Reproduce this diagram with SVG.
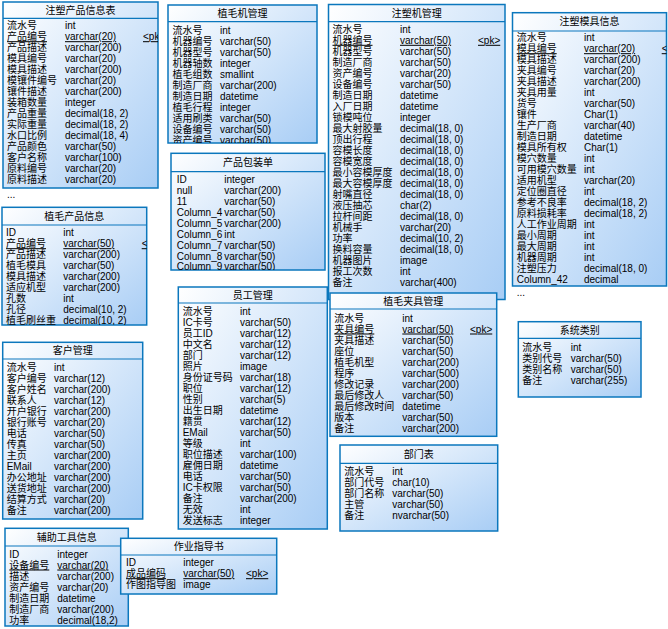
<svg xmlns="http://www.w3.org/2000/svg" width="668" height="629" viewBox="0 0 668 629">
<style>
  .box{fill:url(#fill);stroke:#0b77bd;stroke-width:1.5}
  .div{stroke:#0b77bd;stroke-width:1.2}
  text{font-family:"Liberation Sans","Noto Sans CJK SC",sans-serif;font-size:10px;fill:#000}
  .t{text-anchor:middle}
  .u{text-decoration:underline}
</style>
<defs>
  <linearGradient id="fill" x1="0" y1="0" x2="1" y2="1">
    <stop offset="0" stop-color="#ffffff"/>
    <stop offset="1" stop-color="#a8cdf5"/>
  </linearGradient>
  <clipPath id="c1"><rect x="3" y="2" width="155" height="186"/></clipPath>
  <clipPath id="c2"><rect x="168" y="5" width="149" height="138"/></clipPath>
  <clipPath id="c3"><rect x="328.5" y="4.5" width="176.5" height="295"/></clipPath>
  <clipPath id="c4"><rect x="512.5" y="12.7" width="154" height="273.3"/></clipPath>
  <clipPath id="c5"><rect x="171" y="153.3" width="154" height="116.7"/></clipPath>
  <clipPath id="c6"><rect x="2" y="207.3" width="144.7" height="117.7"/></clipPath>
  <clipPath id="c7"><rect x="2.7" y="342.3" width="140" height="176.7"/></clipPath>
  <clipPath id="c8"><rect x="178.3" y="287" width="149" height="242"/></clipPath>
  <clipPath id="c9"><rect x="330" y="293" width="166.7" height="143.3"/></clipPath>
  <clipPath id="c10"><rect x="518.3" y="321.7" width="122.7" height="75.3"/></clipPath>
  <clipPath id="c11"><rect x="340" y="445" width="157.7" height="86"/></clipPath>
  <clipPath id="c12"><rect x="5" y="528.3" width="123.3" height="97.7"/></clipPath>
  <clipPath id="c13"><rect x="120.7" y="538.3" width="156" height="55.7"/></clipPath>
</defs>

<!-- injection-moulded product table -->
<g id="zs-product">
  <rect class="box" x="3" y="2" width="155" height="186"/>
  <line class="div" x1="3" y1="18.3" x2="158" y2="18.3"/>
  <text class="t" x="80.5" y="13.7">注塑产品信息表</text>
  <g clip-path="url(#c1)">
    <text y="29.2"><tspan x="7">流水号</tspan><tspan x="65">int</tspan></text>
    <text class="u" y="40.2" x="7">产品编号</text><text class="u" y="40.2" x="65">varchar(20)</text><text class="u" y="40.2" x="143">&lt;pk&gt;</text>
    <text y="51.2"><tspan x="7">产品描述</tspan><tspan x="65">varchar(200)</tspan></text>
    <text y="62.2"><tspan x="7">模具编号</tspan><tspan x="65">varchar(20)</tspan></text>
    <text y="73.2"><tspan x="7">模具描述</tspan><tspan x="65">varchar(200)</tspan></text>
    <text y="84.2"><tspan x="7">模镶件编号</tspan><tspan x="65">varchar(20)</tspan></text>
    <text y="95.2"><tspan x="7">镶件描述</tspan><tspan x="65">varchar(200)</tspan></text>
    <text y="106.2"><tspan x="7">装箱数量</tspan><tspan x="65">integer</tspan></text>
    <text y="117.2"><tspan x="7">产品重量</tspan><tspan x="65">decimal(18, 2)</tspan></text>
    <text y="128.2"><tspan x="7">实际重量</tspan><tspan x="65">decimal(18, 2)</tspan></text>
    <text y="139.2"><tspan x="7">水口比例</tspan><tspan x="65">decimal(18, 4)</tspan></text>
    <text y="150.2"><tspan x="7">产品颜色</tspan><tspan x="65">varchar(50)</tspan></text>
    <text y="161.2"><tspan x="7">客户名称</tspan><tspan x="65">varchar(100)</tspan></text>
    <text y="172.2"><tspan x="7">原料编号</tspan><tspan x="65">varchar(20)</tspan></text>
    <text y="183.2"><tspan x="7">原料描述</tspan><tspan x="65">varchar(20)</tspan></text>
  </g>
  <text x="7" y="198">...</text>
</g>

<!-- tufting machine table -->
<g id="zm-machine">
  <rect class="box" x="168" y="5" width="149" height="138"/>
  <line class="div" x1="168" y1="21.7" x2="317" y2="21.7"/>
  <text class="t" x="242.5" y="16.8">植毛机管理</text>
  <g clip-path="url(#c2)">
    <text y="33.5"><tspan x="172.5">流水号</tspan><tspan x="220">int</tspan></text>
    <text y="44.5"><tspan x="172.5">机器编号</tspan><tspan x="220">varchar(50)</tspan></text>
    <text y="55.5"><tspan x="172.5">机器型号</tspan><tspan x="220">varchar(50)</tspan></text>
    <text y="66.5"><tspan x="172.5">机器轴数</tspan><tspan x="220">integer</tspan></text>
    <text y="77.5"><tspan x="172.5">植毛组数</tspan><tspan x="220">smallint</tspan></text>
    <text y="88.5"><tspan x="172.5">制造厂商</tspan><tspan x="220">varchar(200)</tspan></text>
    <text y="99.5"><tspan x="172.5">制造日期</tspan><tspan x="220">datetime</tspan></text>
    <text y="110.5"><tspan x="172.5">植毛行程</tspan><tspan x="220">integer</tspan></text>
    <text y="121.5"><tspan x="172.5">适用刷类</tspan><tspan x="220">varchar(50)</tspan></text>
    <text y="132.5"><tspan x="172.5">设备编号</tspan><tspan x="220">varchar(50)</tspan></text>
    <text y="143.5"><tspan x="172.5">资产编号</tspan><tspan x="220">varchar(50)</tspan></text>
  </g>
</g>

<!-- injection moulding machine table -->
<g id="zs-machine">
  <rect class="box" x="328.5" y="4.5" width="176.5" height="295"/>
  <line class="div" x1="328.5" y1="21.7" x2="505" y2="21.7"/>
  <text class="t" x="416.7" y="16.5">注塑机管理</text>
  <g clip-path="url(#c3)">
    <text y="32.8"><tspan x="332.5">流水号</tspan><tspan x="400">int</tspan></text>
    <text class="u" y="43.8" x="332.5">机器编号</text><text class="u" y="43.8" x="400">varchar(50)</text><text class="u" y="43.8" x="478">&lt;pk&gt;</text>
    <text y="54.8"><tspan x="332.5">机器型号</tspan><tspan x="400">varchar(50)</tspan></text>
    <text y="65.8"><tspan x="332.5">制造厂商</tspan><tspan x="400">varchar(50)</tspan></text>
    <text y="76.8"><tspan x="332.5">资产编号</tspan><tspan x="400">varchar(20)</tspan></text>
    <text y="87.8"><tspan x="332.5">设备编号</tspan><tspan x="400">varchar(50)</tspan></text>
    <text y="98.8"><tspan x="332.5">制造日期</tspan><tspan x="400">datetime</tspan></text>
    <text y="109.8"><tspan x="332.5">入厂日期</tspan><tspan x="400">datetime</tspan></text>
    <text y="120.8"><tspan x="332.5">锁模吨位</tspan><tspan x="400">integer</tspan></text>
    <text y="131.8"><tspan x="332.5">最大射胶量</tspan><tspan x="400">decimal(18, 0)</tspan></text>
    <text y="142.8"><tspan x="332.5">顶出行程</tspan><tspan x="400">decimal(18, 0)</tspan></text>
    <text y="153.8"><tspan x="332.5">容模长度</tspan><tspan x="400">decimal(18, 0)</tspan></text>
    <text y="164.8"><tspan x="332.5">容模宽度</tspan><tspan x="400">decimal(18, 0)</tspan></text>
    <text y="175.8"><tspan x="332.5">最小容模厚度</tspan><tspan x="400">decimal(18, 0)</tspan></text>
    <text y="186.8"><tspan x="332.5">最大容模厚度</tspan><tspan x="400">decimal(18, 0)</tspan></text>
    <text y="197.8"><tspan x="332.5">射嘴直径</tspan><tspan x="400">decimal(18, 0)</tspan></text>
    <text y="208.8"><tspan x="332.5">液压抽芯</tspan><tspan x="400">char(2)</tspan></text>
    <text y="219.8"><tspan x="332.5">拉杆间距</tspan><tspan x="400">decimal(18, 0)</tspan></text>
    <text y="230.8"><tspan x="332.5">机械手</tspan><tspan x="400">varchar(20)</tspan></text>
    <text y="241.8"><tspan x="332.5">功率</tspan><tspan x="400">decimal(10, 2)</tspan></text>
    <text y="252.8"><tspan x="332.5">换料容量</tspan><tspan x="400">decimal(18, 0)</tspan></text>
    <text y="263.8"><tspan x="332.5">机器图片</tspan><tspan x="400">image</tspan></text>
    <text y="274.8"><tspan x="332.5">报工次数</tspan><tspan x="400">int</tspan></text>
    <text y="285.8"><tspan x="332.5">备注</tspan><tspan x="400">varchar(400)</tspan></text>
  </g>
</g>

<!-- injection mould table -->
<g id="zs-mould">
  <rect class="box" x="512.5" y="12.7" width="154" height="273.3"/>
  <line class="div" x1="512.5" y1="31" x2="666.5" y2="31"/>
  <text class="t" x="589.5" y="25">注塑模具信息</text>
  <g clip-path="url(#c4)">
    <text y="41.2"><tspan x="516.7">流水号</tspan><tspan x="584">int</tspan></text>
    <text class="u" y="52.2" x="516.7">模具编号</text><text class="u" y="52.2" x="584">varchar(20)</text><text class="u" y="52.2" x="661.7">&lt;pk&gt;</text>
    <text y="63.2"><tspan x="516.7">模具描述</tspan><tspan x="584">varchar(200)</tspan></text>
    <text y="74.2"><tspan x="516.7">夹具编号</tspan><tspan x="584">varchar(20)</tspan></text>
    <text y="85.2"><tspan x="516.7">夹具描述</tspan><tspan x="584">varchar(200)</tspan></text>
    <text y="96.2"><tspan x="516.7">夹具用量</tspan><tspan x="584">int</tspan></text>
    <text y="107.2"><tspan x="516.7">货号</tspan><tspan x="584">varchar(50)</tspan></text>
    <text y="118.2"><tspan x="516.7">镶件</tspan><tspan x="584">Char(1)</tspan></text>
    <text y="129.2"><tspan x="516.7">生产厂商</tspan><tspan x="584">varchar(40)</tspan></text>
    <text y="140.2"><tspan x="516.7">制造日期</tspan><tspan x="584">datetime</tspan></text>
    <text y="151.2"><tspan x="516.7">模具所有权</tspan><tspan x="584">Char(1)</tspan></text>
    <text y="162.2"><tspan x="516.7">模穴数量</tspan><tspan x="584">int</tspan></text>
    <text y="173.2"><tspan x="516.7">可用模穴数量</tspan><tspan x="584">int</tspan></text>
    <text y="184.2"><tspan x="516.7">适用机型</tspan><tspan x="584">varchar(20)</tspan></text>
    <text y="195.2"><tspan x="516.7">定位圈直径</tspan><tspan x="584">int</tspan></text>
    <text y="206.2"><tspan x="516.7">参考不良率</tspan><tspan x="584">decimal(18, 2)</tspan></text>
    <text y="217.2"><tspan x="516.7">原料损耗率</tspan><tspan x="584">decimal(18, 2)</tspan></text>
    <text y="228.2"><tspan x="516.7">人工作业周期</tspan><tspan x="584">int</tspan></text>
    <text y="239.2"><tspan x="516.7">最小周期</tspan><tspan x="584">int</tspan></text>
    <text y="250.2"><tspan x="516.7">最大周期</tspan><tspan x="584">int</tspan></text>
    <text y="261.2"><tspan x="516.7">机器周期</tspan><tspan x="584">int</tspan></text>
    <text y="272.2"><tspan x="516.7">注塑压力</tspan><tspan x="584">decimal(18, 0)</tspan></text>
    <text y="283.2"><tspan x="516.7">Column_42</tspan><tspan x="584">decimal</tspan></text>
  </g>
  <text x="516.7" y="296">...</text>
</g>

<!-- packing list table -->
<g id="packing">
  <rect class="box" x="171" y="153.3" width="154" height="116.7"/>
  <line class="div" x1="171" y1="171.7" x2="325" y2="171.7"/>
  <text class="t" x="248" y="166">产品包装单</text>
  <g clip-path="url(#c5)">
    <text y="182.8"><tspan x="176.7">ID</tspan><tspan x="224.3">integer</tspan></text>
    <text y="193.8"><tspan x="176.7">null</tspan><tspan x="224.3">varchar(200)</tspan></text>
    <text y="204.8"><tspan x="176.7">11</tspan><tspan x="224.3">varchar(50)</tspan></text>
    <text y="215.8"><tspan x="176.7">Column_4</tspan><tspan x="224.3">varchar(50)</tspan></text>
    <text y="226.8"><tspan x="176.7">Column_5</tspan><tspan x="224.3">varchar(200)</tspan></text>
    <text y="237.8"><tspan x="176.7">Column_6</tspan><tspan x="224.3">int</tspan></text>
    <text y="248.8"><tspan x="176.7">Column_7</tspan><tspan x="224.3">varchar(50)</tspan></text>
    <text y="259.8"><tspan x="176.7">Column_8</tspan><tspan x="224.3">varchar(50)</tspan></text>
    <text y="270.3"><tspan x="176.7">Column_9</tspan><tspan x="224.3">varchar(50)</tspan></text>
  </g>
</g>

<!-- tufted product table -->
<g id="zm-product">
  <rect class="box" x="2" y="207.3" width="144.7" height="117.7"/>
  <line class="div" x1="2" y1="225" x2="146.7" y2="225"/>
  <text class="t" x="74.3" y="219.7">植毛产品信息</text>
  <g clip-path="url(#c6)">
    <text y="236.2"><tspan x="6">ID</tspan><tspan x="63.3">int</tspan></text>
    <text class="u" y="247.2" x="6">产品编号</text><text class="u" y="247.2" x="63.3">varchar(50)</text><text class="u" y="247.2" x="141.7">&lt;pk&gt;</text>
    <text y="258.2"><tspan x="6">产品描述</tspan><tspan x="63.3">varchar(200)</tspan></text>
    <text y="269.2"><tspan x="6">植毛模具</tspan><tspan x="63.3">varchar(50)</tspan></text>
    <text y="280.2"><tspan x="6">模具描述</tspan><tspan x="63.3">varchar(200)</tspan></text>
    <text y="291.2"><tspan x="6">适应机型</tspan><tspan x="63.3">varchar(200)</tspan></text>
    <text y="302.2"><tspan x="6">孔数</tspan><tspan x="63.3">int</tspan></text>
    <text y="313.2"><tspan x="6">孔径</tspan><tspan x="63.3">decimal(10, 2)</tspan></text>
    <text y="324.2"><tspan x="6">植毛刷丝重</tspan><tspan x="63.3">decimal(10, 2)</tspan></text>
  </g>
</g>

<!-- customer table -->
<g id="customer">
  <rect class="box" x="2.7" y="342.3" width="140" height="176.7"/>
  <line class="div" x1="2.7" y1="359" x2="142.7" y2="359"/>
  <text class="t" x="72.7" y="354.2">客户管理</text>
  <g clip-path="url(#c7)">
    <text y="370.5"><tspan x="6.7">流水号</tspan><tspan x="54">int</tspan></text>
    <text y="381.5"><tspan x="6.7">客户编号</tspan><tspan x="54">varchar(12)</tspan></text>
    <text y="392.5"><tspan x="6.7">客户姓名</tspan><tspan x="54">varchar(200)</tspan></text>
    <text y="403.5"><tspan x="6.7">联系人</tspan><tspan x="54">varchar(12)</tspan></text>
    <text y="414.5"><tspan x="6.7">开户银行</tspan><tspan x="54">varchar(200)</tspan></text>
    <text y="425.5"><tspan x="6.7">银行账号</tspan><tspan x="54">varchar(20)</tspan></text>
    <text y="436.5"><tspan x="6.7">电话</tspan><tspan x="54">varchar(50)</tspan></text>
    <text y="447.5"><tspan x="6.7">传真</tspan><tspan x="54">varchar(50)</tspan></text>
    <text y="458.5"><tspan x="6.7">主页</tspan><tspan x="54">varchar(200)</tspan></text>
    <text y="469.5"><tspan x="6.7">EMail</tspan><tspan x="54">varchar(200)</tspan></text>
    <text y="480.5"><tspan x="6.7">办公地址</tspan><tspan x="54">varchar(200)</tspan></text>
    <text y="491.5"><tspan x="6.7">送货地址</tspan><tspan x="54">varchar(200)</tspan></text>
    <text y="502.5"><tspan x="6.7">结算方式</tspan><tspan x="54">varchar(20)</tspan></text>
    <text y="513.5"><tspan x="6.7">备注</tspan><tspan x="54">varchar(200)</tspan></text>
  </g>
</g>

<!-- employee table -->
<g id="employee">
  <rect class="box" x="178.3" y="287" width="149" height="242"/>
  <line class="div" x1="178.3" y1="303" x2="327.3" y2="303"/>
  <text class="t" x="252.8" y="298.5">员工管理</text>
  <g clip-path="url(#c8)">
    <text y="314.5"><tspan x="182.7">流水号</tspan><tspan x="240">int</tspan></text>
    <text y="325.5"><tspan x="182.7">IC卡号</tspan><tspan x="240">varchar(50)</tspan></text>
    <text y="336.5"><tspan x="182.7">员工ID</tspan><tspan x="240">varchar(12)</tspan></text>
    <text y="347.5"><tspan x="182.7">中文名</tspan><tspan x="240">varchar(12)</tspan></text>
    <text y="358.5"><tspan x="182.7">部门</tspan><tspan x="240">varchar(12)</tspan></text>
    <text y="369.5"><tspan x="182.7">照片</tspan><tspan x="240">image</tspan></text>
    <text y="380.5"><tspan x="182.7">身份证号码</tspan><tspan x="240">varchar(18)</tspan></text>
    <text y="391.5"><tspan x="182.7">职位</tspan><tspan x="240">varchar(12)</tspan></text>
    <text y="402.5"><tspan x="182.7">性别</tspan><tspan x="240">varchar(5)</tspan></text>
    <text y="413.5"><tspan x="182.7">出生日期</tspan><tspan x="240">datetime</tspan></text>
    <text y="424.5"><tspan x="182.7">籍贯</tspan><tspan x="240">varchar(12)</tspan></text>
    <text y="435.5"><tspan x="182.7">EMail</tspan><tspan x="240">varchar(50)</tspan></text>
    <text y="446.5"><tspan x="182.7">等级</tspan><tspan x="240">int</tspan></text>
    <text y="457.5"><tspan x="182.7">职位描述</tspan><tspan x="240">varchar(100)</tspan></text>
    <text y="468.5"><tspan x="182.7">雇佣日期</tspan><tspan x="240">datetime</tspan></text>
    <text y="479.5"><tspan x="182.7">电话</tspan><tspan x="240">varchar(50)</tspan></text>
    <text y="490.5"><tspan x="182.7">IC卡权限</tspan><tspan x="240">varchar(50)</tspan></text>
    <text y="501.5"><tspan x="182.7">备注</tspan><tspan x="240">varchar(200)</tspan></text>
    <text y="512.5"><tspan x="182.7">无效</tspan><tspan x="240">int</tspan></text>
    <text y="523.5"><tspan x="182.7">发送标志</tspan><tspan x="240">integer</tspan></text>
  </g>
</g>

<!-- tufting fixture table -->
<g id="zm-fixture">
  <rect class="box" x="330" y="293" width="166.7" height="143.3"/>
  <line class="div" x1="330" y1="309" x2="496.7" y2="309"/>
  <text class="t" x="413.3" y="304.5">植毛夹具管理</text>
  <g clip-path="url(#c9)">
    <text y="321.5"><tspan x="334.3">流水号</tspan><tspan x="402.3">int</tspan></text>
    <text class="u" y="332.5" x="334.3">夹具编号</text><text class="u" y="332.5" x="402.3">varchar(50)</text><text class="u" y="332.5" x="470">&lt;pk&gt;</text>
    <text y="343.5"><tspan x="334.3">夹具描述</tspan><tspan x="402.3">varchar(50)</tspan></text>
    <text y="354.5"><tspan x="334.3">座位</tspan><tspan x="402.3">varchar(50)</tspan></text>
    <text y="365.5"><tspan x="334.3">植毛机型</tspan><tspan x="402.3">varchar(200)</tspan></text>
    <text y="376.5"><tspan x="334.3">程序</tspan><tspan x="402.3">varchar(500)</tspan></text>
    <text y="387.5"><tspan x="334.3">修改记录</tspan><tspan x="402.3">varchar(200)</tspan></text>
    <text y="398.5"><tspan x="334.3">最后修改人</tspan><tspan x="402.3">varchar(50)</tspan></text>
    <text y="409.5"><tspan x="334.3">最后修改时间</tspan><tspan x="402.3">datetime</tspan></text>
    <text y="420.5"><tspan x="334.3">版本</tspan><tspan x="402.3">varchar(50)</tspan></text>
    <text y="431.5"><tspan x="334.3">备注</tspan><tspan x="402.3">varchar(200)</tspan></text>
  </g>
</g>

<!-- system category table -->
<g id="category">
  <rect class="box" x="518.3" y="321.7" width="122.7" height="75.3"/>
  <line class="div" x1="518.3" y1="338.3" x2="641" y2="338.3"/>
  <text class="t" x="579.7" y="333.5">系统类别</text>
  <g clip-path="url(#c10)">
    <text y="350.8"><tspan x="522.3">流水号</tspan><tspan x="570.7">int</tspan></text>
    <text y="361.8"><tspan x="522.3">类别代号</tspan><tspan x="570.7">varchar(50)</tspan></text>
    <text y="372.8"><tspan x="522.3">类别名称</tspan><tspan x="570.7">varchar(50)</tspan></text>
    <text y="383.8"><tspan x="522.3">备注</tspan><tspan x="570.7">varchar(255)</tspan></text>
  </g>
</g>

<!-- department table -->
<g id="department">
  <rect class="box" x="340" y="445" width="157.7" height="86"/>
  <line class="div" x1="340" y1="463.3" x2="497.7" y2="463.3"/>
  <text class="t" x="418.8" y="457.7">部门表</text>
  <g clip-path="url(#c11)">
    <text y="475.2"><tspan x="344.3">流水号</tspan><tspan x="392.3">int</tspan></text>
    <text y="486.2"><tspan x="344.3">部门代号</tspan><tspan x="392.3">char(10)</tspan></text>
    <text y="497.2"><tspan x="344.3">部门名称</tspan><tspan x="392.3">varchar(50)</tspan></text>
    <text y="508.2"><tspan x="344.3">主管</tspan><tspan x="392.3">varchar(50)</tspan></text>
    <text y="519.2"><tspan x="344.3">备注</tspan><tspan x="392.3">nvarchar(50)</tspan></text>
  </g>
</g>

<!-- auxiliary tool table -->
<g id="aux-tool">
  <rect class="box" x="5" y="528.3" width="123.3" height="97.7"/>
  <line class="div" x1="5" y1="546" x2="128.3" y2="546"/>
  <text class="t" x="66.7" y="540.7">辅助工具信息</text>
  <g clip-path="url(#c12)">
    <text y="557.5"><tspan x="9.3">ID</tspan><tspan x="57.3">integer</tspan></text>
    <text class="u" y="568.5" x="9.3">设备编号</text><text class="u" y="568.5" x="57.3">varchar(20)</text>
    <text y="579.5"><tspan x="9.3">描述</tspan><tspan x="57.3">varchar(200)</tspan></text>
    <text y="590.5"><tspan x="9.3">资产编号</tspan><tspan x="57.3">varchar(20)</tspan></text>
    <text y="601.5"><tspan x="9.3">制造日期</tspan><tspan x="57.3">datetime</tspan></text>
    <text y="612.5"><tspan x="9.3">制造厂商</tspan><tspan x="57.3">varchar(200)</tspan></text>
    <text y="623.5"><tspan x="9.3">功率</tspan><tspan x="57.3">decimal(18,2)</tspan></text>
  </g>
</g>

<!-- work instruction table -->
<g id="instruction">
  <rect class="box" x="120.7" y="538.3" width="156" height="55.7"/>
  <line class="div" x1="120.7" y1="555" x2="276.7" y2="555"/>
  <text class="t" x="198.7" y="550.2">作业指导书</text>
  <g clip-path="url(#c13)">
    <text y="566.2"><tspan x="126">ID</tspan><tspan x="183.3">integer</tspan></text>
    <text class="u" y="577.2" x="126">成品编码</text><text class="u" y="577.2" x="183.3">varchar(50)</text><text class="u" y="577.2" x="246">&lt;pk&gt;</text>
    <text y="588.2"><tspan x="126">作图指导图</tspan><tspan x="183.3">image</tspan></text>
  </g>
</g>
</svg>
